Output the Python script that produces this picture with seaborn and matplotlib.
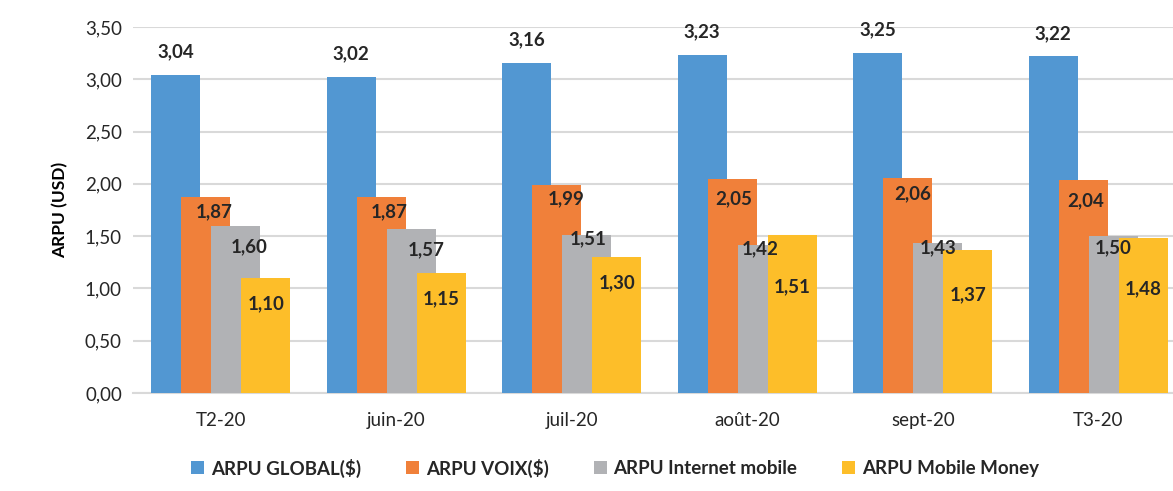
import matplotlib
matplotlib.use("Agg")
import matplotlib.pyplot as plt
import seaborn as sns
import pandas as pd
from matplotlib.ticker import FuncFormatter, MultipleLocator
from matplotlib.patches import Patch

periods = ["T2-20", "juin-20", "juil-20", "août-20", "sept-20", "T3-20"]
series = ["ARPU GLOBAL($)", "ARPU VOIX($)", "ARPU Internet mobile", "ARPU Mobile Money"]
arpu_global = [3.04, 3.02, 3.16, 3.23, 3.25, 3.22]
arpu_voix = [1.87, 1.87, 1.99, 2.05, 2.06, 2.04]
arpu_internet = [1.60, 1.57, 1.51, 1.42, 1.43, 1.50]
arpu_mobile_money = [1.10, 1.15, 1.30, 1.51, 1.37, 1.48]
colors = ["#5297D2", "#F0803A", "#B1B2B5", "#FDBE29"]

values = [arpu_global, arpu_voix, arpu_internet, arpu_mobile_money]
df = pd.DataFrame(
    [(p, s, v) for s, vals in zip(series, values) for p, v in zip(periods, vals)],
    columns=["period", "series", "value"],
)

# label placement per bar, in pixels from the bar top (dx right, dy up)
label_dx = [
    [0, 0, 0, 0, 0, 0],
    [8, 8, 9, 1, 5, 2],
    [13, 15, 1, -2, 0, 0],
    [0, 0, 0, 0, 0, 0],
]
label_dy = [
    [23, 23, 23, 23, 23, 23],
    [-14, -14, -14, -20, -16, -21],
    [-21, -21, -4, -4, -4, -12],
    [-26, -26, -26, -52, -45, -51],
]

sns.set_theme(style="white")
plt.rcParams["font.family"] = ["Lato", "DejaVu Sans"]

fig = plt.figure(figsize=(11.73, 4.91), dpi=100)
ax = fig.add_axes([133 / 1173, 98 / 491, 1053 / 1173, 366 / 491])

step = 0.171  # spacing between the bars of one group
sns.barplot(data=df, x="period", y="value", hue="series", order=periods,
            hue_order=series, palette=colors, width=4 * step, saturation=1,
            legend=False, ax=ax, zorder=3)

# widen bars so neighbours overlap, keeping each bar centred
bar_w = 0.28
for p in ax.patches:
    cx = p.get_x() + p.get_width() / 2
    p.set_x(cx - bar_w / 2)
    p.set_width(bar_w)
    p.set_linewidth(0)

ax.set_xlim(-0.5, 5.5)
ax.set_ylim(0, 3.5)
ax.yaxis.set_major_locator(MultipleLocator(0.5))
ax.yaxis.set_major_formatter(FuncFormatter(lambda v, _: f"{v:.2f}".replace(".", ",")))
ax.grid(axis="y", color="#D9D9D9", linewidth=1.5, zorder=0)
ax.grid(axis="x", visible=False)
for side in ["left", "right", "top"]:
    ax.spines[side].set_visible(False)
ax.spines["bottom"].set_color("#D9D9D9")
ax.spines["bottom"].set_linewidth(1.5)
ax.tick_params(axis="both", length=0, labelsize=13.5, colors="#262626", pad=8)
ax.tick_params(axis="x", pad=14)
ax.set_xlabel("")
ax.set_ylabel("ARPU (USD)", fontsize=12.5, fontweight="bold", color="#000000", labelpad=12)

px = 0.72  # points per pixel at 100 dpi
for container, dxs, dys in zip(ax.containers, label_dx, label_dy):
    for bar, dx, dy in zip(container, dxs, dys):
        h = bar.get_height()
        ax.annotate(f"{h:.2f}".replace(".", ","),
                    xy=(bar.get_x() + bar.get_width() / 2, h),
                    xytext=(dx * px, dy * px), textcoords="offset points",
                    ha="center", va="center", fontsize=13.5, fontweight="bold",
                    color="#262626", zorder=5, annotation_clip=False)

handles = [Patch(facecolor=c, edgecolor="none") for c in colors]
fig.legend(handles, series, loc="center", bbox_to_anchor=(615 / 1173, 23 / 491),
           ncol=4, frameon=False, handlelength=0.7, handleheight=0.7,
           handletextpad=0.35, columnspacing=2.4,
           prop={"weight": "bold", "size": 13.5})

fig.savefig("out.png", dpi=100)
